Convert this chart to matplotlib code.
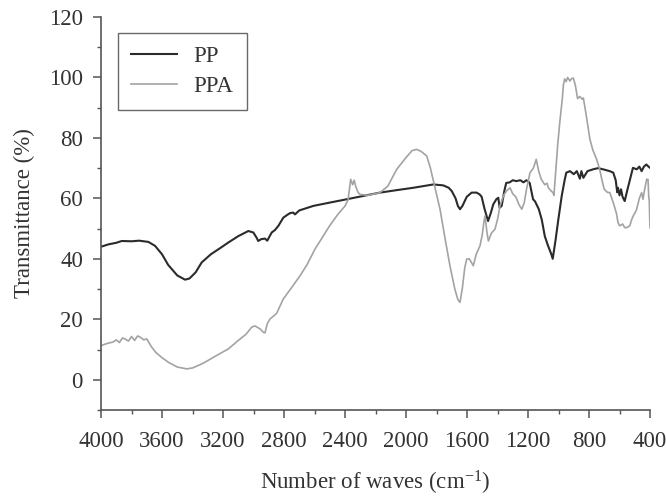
import matplotlib
matplotlib.use('Agg')
import matplotlib.pyplot as plt
from matplotlib.ticker import MultipleLocator

# wavenumber (cm-1) / transmittance (%)
pp_wave = [4000, 3950, 3900, 3864, 3800, 3750, 3690, 3646, 3600, 3560, 3536, 3500,
           3449, 3420, 3380, 3340, 3280, 3220, 3165, 3100, 3034, 3001, 2980, 2969,
           2950, 2925, 2910, 2881, 2860, 2837, 2805, 2780, 2761, 2740, 2728, 2700,
           2608, 2500, 2389, 2300, 2171, 2050, 1952, 1821, 1756, 1720, 1700, 1675,
           1660, 1646, 1630, 1602, 1570, 1537, 1517, 1504, 1485, 1462, 1445, 1428,
           1408, 1395, 1386, 1373, 1355, 1343, 1320, 1300, 1277, 1250, 1230, 1210,
           1189, 1167, 1154, 1130, 1110, 1090, 1070, 1047, 1038, 1020, 1001, 979,
           960, 949, 925, 900, 880, 860, 850, 837, 810, 774, 740, 700, 664, 641,
           625, 615, 610, 600, 590, 580, 566, 550, 531, 512, 487, 470, 455, 440,
           424, 410, 400]
pp_trans = [44.0, 44.8, 45.3, 45.9, 45.8, 46.0, 45.6, 44.3, 41.5, 38.0, 36.6, 34.5,
            33.1, 33.5, 35.5, 38.8, 41.5, 43.5, 45.4, 47.5, 49.2, 48.7, 47.0, 45.9,
            46.5, 46.7, 46.0, 48.7, 49.5, 50.9, 53.6, 54.5, 55.1, 55.3, 54.7, 56.0,
            57.5, 58.6, 59.7, 60.6, 61.9, 62.8, 63.5, 64.6, 64.3, 63.5, 62.4, 60.0,
            57.5, 56.4, 57.5, 60.5, 61.9, 61.9, 61.3, 60.5, 56.5, 52.5, 55.0, 58.0,
            59.7, 60.2, 56.9, 57.5, 62.5, 65.1, 65.3, 66.0, 65.7, 66.0, 65.3, 66.0,
            65.1, 59.7, 59.0, 56.5, 53.0, 47.5, 44.5, 41.5, 40.0, 46.0, 53.1, 60.8,
            66.0, 68.5, 69.0, 68.0, 69.0, 66.5, 69.0, 66.8, 69.0, 69.6, 70.0, 69.5,
            69.0, 68.5, 66.0, 62.0, 63.5, 61.0, 63.0, 60.5, 59.1, 62.5, 66.3, 70.1,
            69.6, 70.5, 69.0, 70.5, 71.2, 70.5, 70.1]

ppa_wave = [4000, 3960, 3920, 3900, 3880, 3860, 3843, 3820, 3800, 3780, 3760, 3744,
            3720, 3700, 3680, 3668, 3640, 3600, 3559, 3500, 3438, 3400, 3350, 3318,
            3250, 3165, 3100, 3050, 3012, 2990, 2957, 2935, 2925, 2910, 2892, 2870,
            2848, 2830, 2805, 2750, 2695, 2650, 2597, 2550, 2500, 2450, 2400, 2380,
            2370, 2363, 2350, 2340, 2330, 2315, 2302, 2250, 2171, 2120, 2061, 2000,
            1960, 1930, 1900, 1864, 1840, 1810, 1777, 1745, 1712, 1680, 1660, 1646,
            1630, 1615, 1602, 1585, 1559, 1540, 1515, 1500, 1490, 1482, 1470, 1460,
            1440, 1417, 1400, 1384, 1360, 1340, 1318, 1300, 1280, 1260, 1241, 1225,
            1210, 1187, 1165, 1146, 1130, 1113, 1090, 1075, 1067, 1050, 1036, 1030,
            1020, 1005, 990, 975, 968, 960, 950, 940, 925, 915, 903, 890, 875, 861,
            845, 837, 820, 794, 775, 750, 730, 715, 700, 680, 664, 641, 620, 610,
            599, 580, 565, 553, 533, 520, 510, 490, 470, 455, 446, 435, 422, 413,
            408, 405, 402, 400]
ppa_trans = [11.3, 12.0, 12.5, 13.2, 12.3, 13.8, 13.5, 12.8, 14.3, 13.0, 14.5, 14.1,
             13.2, 13.5, 11.8, 10.8, 9.0, 7.3, 5.8, 4.2, 3.6, 3.9, 5.0, 5.8,
             7.8, 10.2, 13.0, 15.0, 17.4, 17.8, 16.8, 15.7, 15.5, 18.5, 20.1, 21.0,
             22.0, 24.0, 26.7, 30.5, 34.4, 38.0, 43.2, 47.0, 51.0, 54.5, 57.5, 59.5,
             63.5, 66.3, 64.5, 66.0, 64.0, 62.0, 61.3, 61.0, 61.9, 64.0, 69.6, 73.5,
             75.8, 76.2, 75.5, 74.0, 70.0, 63.5, 56.4, 47.0, 37.7, 30.0, 26.5, 25.6,
             30.5, 37.0, 39.9, 40.0, 37.7, 41.5, 44.3, 48.0, 52.0, 54.2, 49.0, 45.9,
             48.5, 49.8, 53.0, 57.5, 61.0, 62.5, 63.5, 61.5, 60.5, 58.0, 56.4, 58.5,
             63.0, 68.5, 70.0, 72.9, 69.0, 66.3, 64.5, 65.0, 63.5, 62.5, 61.9, 61.0,
             68.0, 78.0, 86.0, 93.0, 97.5, 99.5, 98.6, 100.0, 98.8, 99.6, 99.8, 97.5, 93.0, 93.7,
             92.8, 93.2, 88.0, 79.5, 76.0, 72.9, 69.6, 66.0, 63.0, 62.0, 61.9, 58.6, 55.0, 52.0,
             50.9, 51.5, 50.3, 50.3, 50.9, 53.0, 54.2, 56.0, 60.0, 61.9, 59.7, 63.0, 66.3, 66.3,
             60.0, 59.7, 53.0, 50.3]

x_ticks = [4000, 3600, 3200, 2800, 2400, 2000, 1600, 1200, 800, 400]
y_ticks = [0, 20, 40, 60, 80, 100, 120]

plt.rcParams['font.family'] = ['Liberation Serif', 'DejaVu Serif']
plt.rcParams['mathtext.default'] = 'regular'
text_col = '#333333'
axis_col = '#555555'
fs = 16.5

fig = plt.figure(figsize=(6.66, 4.99), dpi=100)
ax = fig.add_axes([0.1517, 0.1784, 0.8243, 0.7876])

ax.plot(pp_wave, pp_trans, color='#2b2b2b', lw=1.5, label='PP')
ax.plot(ppa_wave, ppa_trans, color='#a3a3a3', lw=1.2, label='PPA')

ax.set_xlim(4000, 400)
ax.set_ylim(-10, 120)
ax.set_xticks(x_ticks)
ax.set_yticks(y_ticks)
ax.xaxis.set_minor_locator(MultipleLocator(200))
ax.yaxis.set_minor_locator(MultipleLocator(10))

for side in ['top', 'right']:
    ax.spines[side].set_visible(False)
for side in ['left', 'bottom']:
    ax.spines[side].set_color(axis_col)
    ax.spines[side].set_linewidth(1.2)

ax.tick_params(which='major', length=6, width=1.1, color=axis_col,
               labelsize=fs, labelcolor=text_col)
ax.tick_params(which='minor', length=3, width=1.0, color=axis_col)
ax.tick_params(axis='x', which='major', pad=9)
ax.tick_params(axis='y', which='major', pad=7)

ax.set_xlabel('Number of waves (cm$^{-1}$)', fontsize=fs, color=text_col, labelpad=12)
ax.set_ylabel('Transmittance (%)', fontsize=fs, color=text_col, labelpad=10)

leg = ax.legend(loc='upper left', bbox_to_anchor=(0.03, 0.96), fontsize=fs,
                fancybox=False, frameon=True, handlelength=2.0, borderpad=0.6,
                labelspacing=0.35, borderaxespad=0, handletextpad=0.7)
leg.get_frame().set_edgecolor('#444444')
leg.get_frame().set_linewidth(1.0)
for t in leg.get_texts():
    t.set_color(text_col)

fig.savefig('out.png', dpi=100)
